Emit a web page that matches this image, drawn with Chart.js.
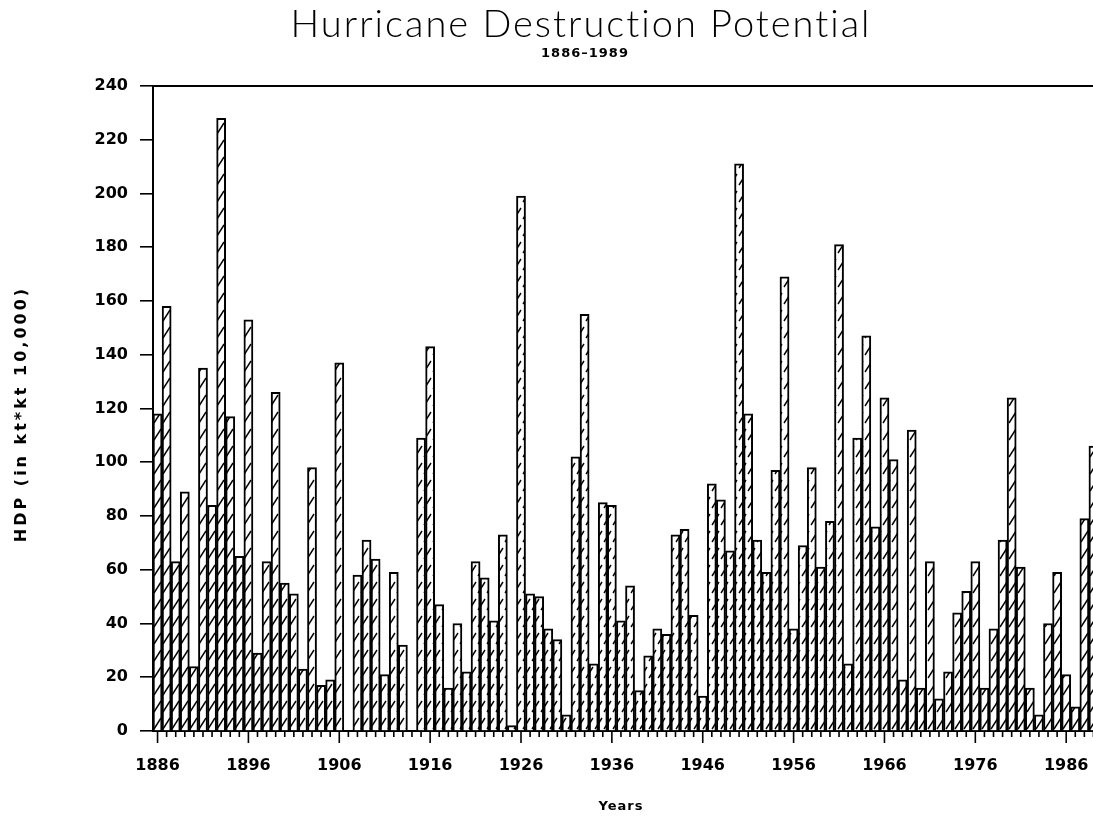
<!DOCTYPE html>
<html>
<head>
<meta charset="utf-8">
<script src="https://cdn.jsdelivr.net/npm/chart.js@4/dist/chart.umd.min.js"></script>
<style>
  html, body { margin: 0; padding: 0; background: #fff; overflow: hidden; }
  #wrap { position: relative; width: 1100px; height: 823px; }
</style>
</head>
<body>
<div id="wrap"><canvas id="chart" width="1100" height="823"></canvas></div>
<script>
// Annual Hurricane Destruction Potential, 1886-1989
const years = Array.from({ length: 1989 - 1886 + 1 }, (_, i) => String(1886 + i));

const hdp = [
  118, 158,  63,  89,  24, 135,  84, 228, 117,  65,   // 1886-1895
  153,  29,  63, 126,  55,  51,  23,  98,  17,  19,   // 1896-1905
  137,   0,  58,  71,  64,  21,  59,  32,   0, 109,   // 1906-1915
  143,  47,  16,  40,  22,  63,  57,  41,  73,   2,   // 1916-1925
  199,  51,  50,  38,  34,   6, 102, 155,  25,  85,   // 1926-1935
   84,  41,  54,  15,  28,  38,  36,  73,  75,  43,   // 1936-1945
   13,  92,  86,  67, 211, 118,  71,  59,  97, 169,   // 1946-1955
   38,  69,  98,  61,  78, 181,  25, 109, 147,  76,   // 1956-1965
  124, 101,  19, 112,  16,  63,  12,  22,  44,  52,   // 1966-1975
   63,  16,  38,  71, 124,  61,  16,   6,  40,  59,   // 1976-1985
   21,   9,  79, 106                                  // 1986-1989
];

const yTicks = [0, 20, 40, 60, 80, 100, 120, 140, 160, 180, 200, 220, 240];
const labelledYears = ['1886', '1896', '1906', '1916', '1926', '1936', '1946', '1956', '1966', '1976', '1986'];

const titleText = 'Hurricane Destruction Potential';
const subtitleText = '1886\u20131989';
const yTitle = 'HDP (in kt*kt 10,000)';
const xTitle = 'Years';

// diagonal slash hatching used to fill the bars
function makeHatch() {
  const t = document.createElement('canvas');
  t.width = 9; t.height = 17;
  const g = t.getContext('2d');
  g.fillStyle = '#fff';
  g.fillRect(0, 0, t.width, t.height);
  g.strokeStyle = '#000';
  g.lineWidth = 1.4;
  g.beginPath();
  g.moveTo(1, 15);
  g.lineTo(8, 4);
  g.stroke();
  return g.createPattern(t, 'repeat');
}

const tickFont = { family: "'DejaVu Sans', Verdana, sans-serif", size: 16, weight: 'bold' };

// titles, frame line and the two-length year ticks
const decorations = {
  id: 'decorations',
  afterDraw(chart) {
    const ctx = chart.ctx;
    const area = chart.chartArea;
    const xs = chart.scales.x;
    ctx.save();

    ctx.strokeStyle = '#000';
    ctx.lineWidth = 2;
    ctx.beginPath();
    ctx.moveTo(area.left, area.top);
    ctx.lineTo(area.right, area.top);
    ctx.stroke();

    ctx.lineWidth = 1.6;
    ctx.beginPath();
    years.forEach((y, i) => {
      const px = xs.getPixelForTick(i);
      const len = labelledYears.includes(y) ? 12 : 6;
      ctx.moveTo(px, area.bottom);
      ctx.lineTo(px, area.bottom + len);
    });
    ctx.stroke();

    ctx.fillStyle = '#000';
    ctx.textAlign = 'center';
    ctx.textBaseline = 'middle';
    ctx.letterSpacing = '2px';
    ctx.font = "300 38px Lato, 'Open Sans', 'DejaVu Sans', sans-serif";
    ctx.fillText(titleText, 581, 25);
    ctx.letterSpacing = '1px';
    ctx.font = "bold 13px 'DejaVu Sans', Verdana, sans-serif";
    ctx.fillText(subtitleText, 585, 54);

    ctx.letterSpacing = '1px';
    ctx.font = "bold 13px 'DejaVu Sans', Verdana, sans-serif";
    ctx.fillText(xTitle, 621, 807);

    ctx.translate(22, 414);
    ctx.rotate(-Math.PI / 2);
    ctx.letterSpacing = '3px';
    ctx.font = "bold 16px 'DejaVu Sans', Verdana, sans-serif";
    ctx.fillText(yTitle, 0, 0);
    ctx.restore();
  }
};

new Chart(document.getElementById('chart'), {
  type: 'bar',
  data: {
    labels: years,
    datasets: [{
      label: 'HDP',
      data: hdp,
      backgroundColor: makeHatch(),
      borderColor: '#000',
      borderWidth: 2,
      borderSkipped: 'bottom',
      barPercentage: 1,
      categoryPercentage: 1
    }]
  },
  options: {
    responsive: false,
    animation: false,
    layout: { padding: { top: 86, right: 2, left: 0, bottom: 0 } },
    plugins: { legend: { display: false }, tooltip: { enabled: false }, title: { display: false } },
    scales: {
      x: {
        grid: { display: false, drawTicks: true, tickLength: 22 },
        border: { display: true, color: '#000', width: 2 },
        ticks: {
          autoSkip: false,
          maxRotation: 0,
          padding: 3,
          color: '#000',
          font: tickFont,
          callback: (v, i) => labelledYears.includes(years[i]) ? years[i] : ''
        },
        afterFit: s => { s.height = 92; s.paddingLeft = 0; s.paddingRight = 0; }
      },
      y: {
        min: 0,
        max: 240,
        afterBuildTicks: s => { s.ticks = yTicks.map(v => ({ value: v })); },
        grid: { drawOnChartArea: false, tickLength: 13, color: '#000', lineWidth: 1.6 },
        border: { display: true, color: '#000', width: 2 },
        ticks: { padding: 12, color: '#000', font: tickFont },
        afterFit: s => { s.width = 153; s.paddingTop = 0; s.paddingBottom = 0; }
      }
    }
  },
  plugins: [decorations]
});
</script>
</body>
</html>
